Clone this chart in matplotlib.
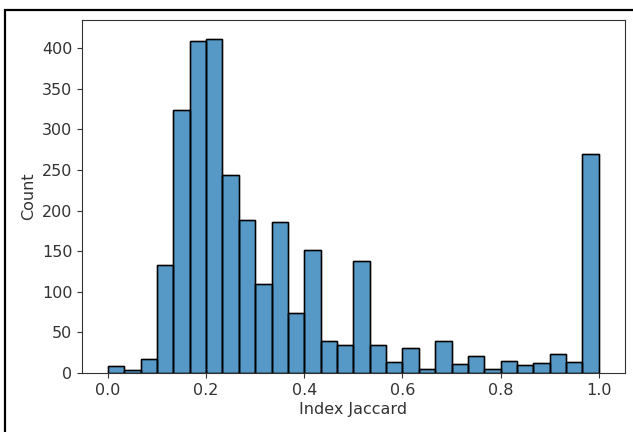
import numpy as np
import matplotlib
matplotlib.use("Agg")
import matplotlib.pyplot as plt
from matplotlib.patches import Rectangle

# histogram of Jaccard index, 30 bins over [0, 1]
bin_lo = 0.0
bin_hi = 1.0
counts = [8, 4, 17, 133, 324, 409, 411, 244, 188, 110,
          186, 74, 151, 39, 35, 138, 35, 13, 31, 5,
          39, 11, 21, 5, 15, 10, 12, 23, 13, 270]
xticks = [0.0, 0.2, 0.4, 0.6, 0.8, 1.0]
yticks = [0, 50, 100, 150, 200, 250, 300, 350, 400]

edges = np.linspace(bin_lo, bin_hi, len(counts) + 1)

fig = plt.figure(figsize=(6.33, 4.32), dpi=100)
ax = fig.add_axes([0.1295, 0.1366, 0.8575, 0.8171])

ax.bar(edges[:-1], counts, width=np.diff(edges), align="edge",
       color="#1f77b4", alpha=0.75, edgecolor="black", linewidth=1.0)
# redraw outlines fully opaque
ax.bar(edges[:-1], counts, width=np.diff(edges), align="edge",
       fill=False, edgecolor="black", linewidth=1.0)

ax.set_xlim(-0.053, 1.053)
ax.set_ylim(0, 434.5)
ax.set_xticks(xticks)
ax.set_xticklabels([f"{t:.1f}" for t in xticks])
ax.set_yticks(yticks)
ax.tick_params(labelsize=11.5, colors="#333333", labelcolor="#333333")
for s in ax.spines.values():
    s.set_color("#333333")
ax.set_xlabel("Index Jaccard", fontsize=11.5, color="#333333", labelpad=3)
ax.set_ylabel("Count", fontsize=11.5, color="#333333", labelpad=4)

# frame of the screenshot
fig.patches.append(Rectangle((5 / 633, -0.1), 1.2, 1.0 - 10 / 432 + 0.1,
                             transform=fig.transFigure, fill=False,
                             edgecolor="black", linewidth=1.6))

fig.savefig("out.png", dpi=100)
